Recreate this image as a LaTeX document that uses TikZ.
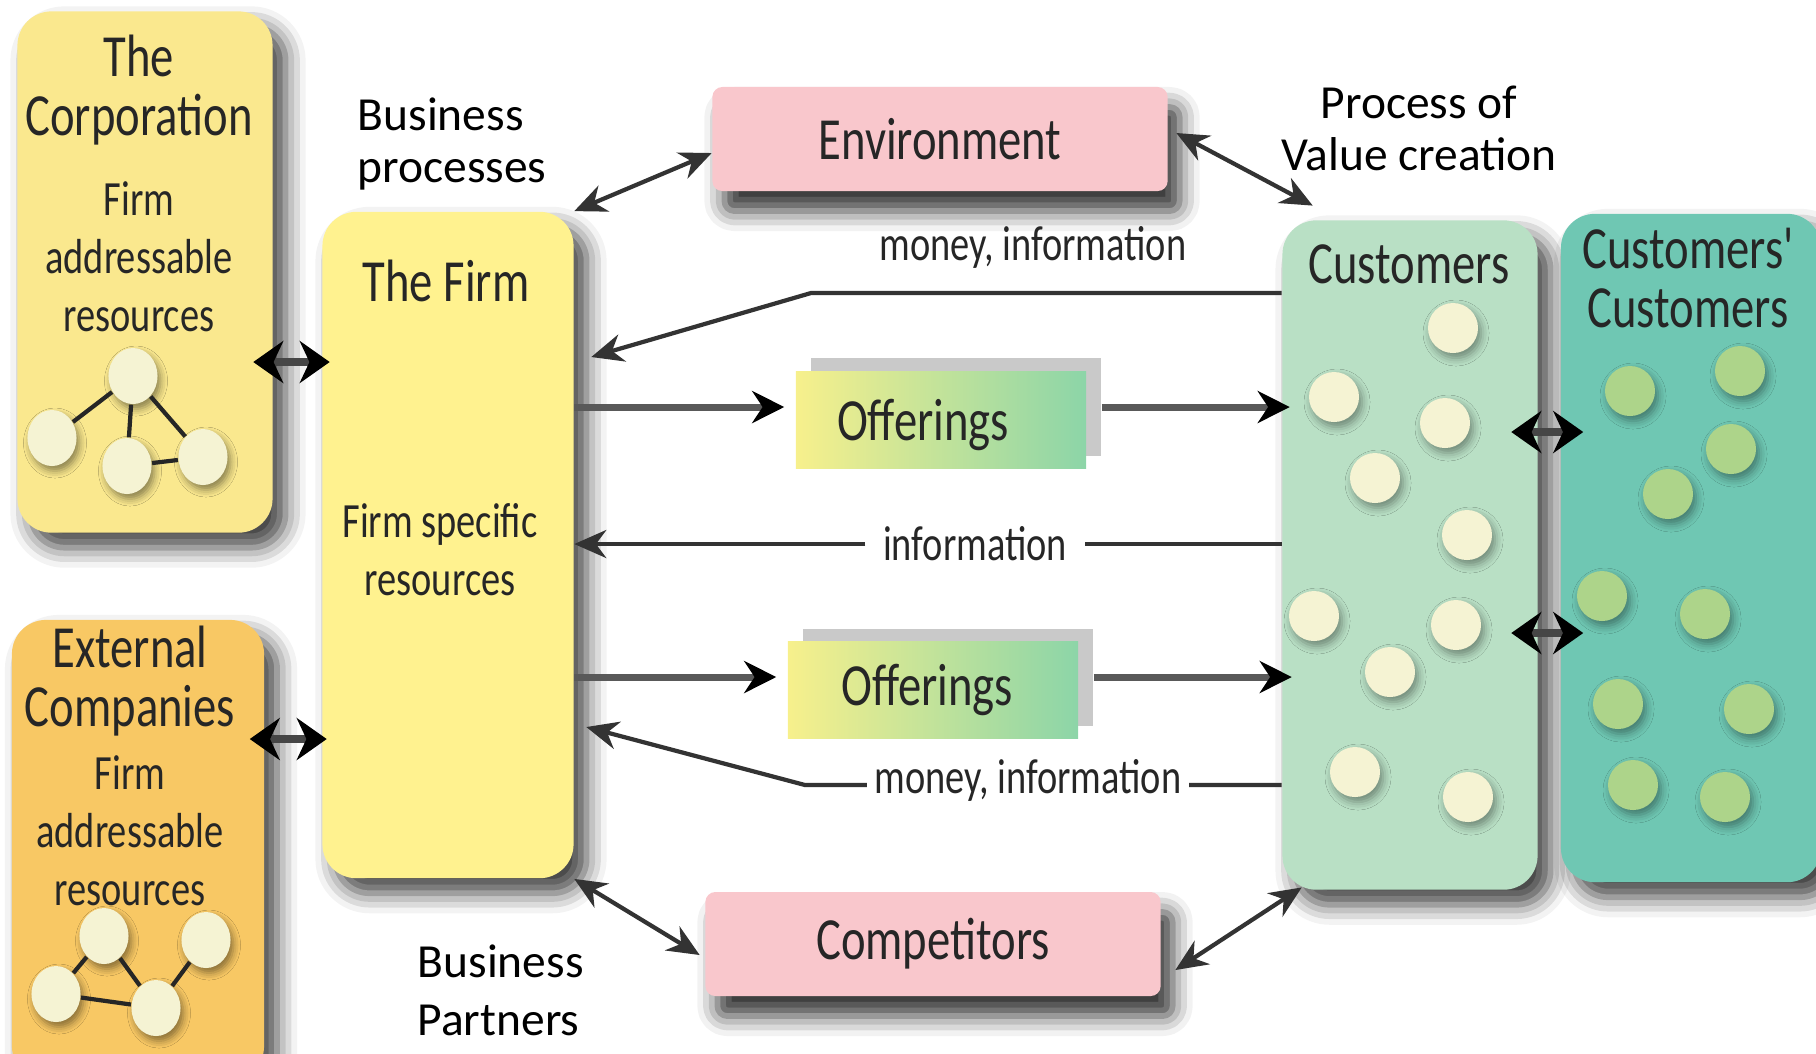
\documentclass[tikz,border=0pt]{standalone}
\usepackage{fontspec}
\setmainfont{Carlito}
\newfontfamily\condfont[FakeStretch=0.78]{Carlito}
\usepackage{tikz}
\usetikzlibrary{arrows.meta, positioning, shapes.geometric, calc, shadows.blur}

\definecolor{corpyellow}{HTML}{FAE88E}
\definecolor{firmyellow}{HTML}{FFF28F}
\definecolor{extorange}{HTML}{F8C864}
\definecolor{envpink}{HTML}{F9C7CC}
\definecolor{custgreen}{HTML}{B9E0C5}
\definecolor{ccteal}{HTML}{6FC7B3}
\definecolor{dotcream}{HTML}{F5F3D3}
\definecolor{dotgreen}{HTML}{ADD48A}
\definecolor{offyellow}{HTML}{F7F08C}
\definecolor{offgreen}{HTML}{8CD5A8}
\definecolor{offgray}{HTML}{C9C9C9}
\definecolor{linegray}{HTML}{333333}

\begin{document}
\begin{tikzpicture}[
    x=0.01cm, y=-0.01cm,
    bigbox/.style={rectangle, rounded corners=0.34cm, inner sep=0pt,
        blur shadow={shadow xshift=0.13cm, shadow yshift=-0.15cm, shadow blur radius=0.2cm, shadow opacity=75}},
    flatbox/.style={rectangle, rounded corners=0.1cm, fill=envpink, inner sep=0pt,
        minimum width=4.55cm, minimum height=1.04cm, text=black!85,
        font=\condfont\fontsize{17}{19}\selectfont,
        blur shadow={shadow xshift=0.12cm, shadow yshift=-0.2cm, shadow blur radius=0.2cm, shadow opacity=80}},
    offer/.style={rectangle, inner sep=0pt, minimum width=2.9cm, minimum height=0.97cm,
        left color=offyellow, right color=offgreen, text=black!85,
        font=\condfont\fontsize{17}{19}\selectfont},
    offback/.style={rectangle, inner sep=0pt, minimum width=2.9cm, minimum height=0.97cm, fill=offgray},
    boxtitle/.style={align=center, text=black!85, font=\condfont\fontsize{17}{17}\selectfont},
    boxtext/.style={align=center, text=black!85, font=\condfont\fontsize{14}{16.5}\selectfont},
    flowlabel/.style={text=black!85, font=\condfont\fontsize{14}{16}\selectfont, inner xsep=0.17cm, inner ysep=2pt},
    note/.style={align=left, inner sep=0pt, font=\fontsize{13.5}{14.8}\selectfont},
    rdot/.style={ellipse, minimum width=0.49cm, minimum height=0.56cm, inner sep=0pt, fill=dotcream,
        blur shadow={shadow xshift=0.03cm, shadow yshift=-0.05cm, shadow blur radius=0.07cm, shadow opacity=45}},
    cdot/.style={circle, minimum size=0.5cm, inner sep=0pt, fill=dotcream,
        blur shadow={shadow xshift=0.03cm, shadow yshift=-0.05cm, shadow blur radius=0.08cm, shadow opacity=40}},
    ccdot/.style={cdot, fill=dotgreen},
    arrow/.style={-{Stealth[length=0.32cm, width=0.28cm]}, line width=1.2pt, draw=linegray},
    both/.style={{Stealth[length=0.32cm, width=0.28cm]}-{Stealth[length=0.32cm, width=0.28cm]}, line width=1.2pt, draw=linegray},
    offarrow/.style={-{Stealth[length=0.32cm, width=0.32cm, color=black]}, line width=2pt, draw=gray!70!black},
    twohead/.style={{Stealth[length=0.3cm, width=0.42cm, color=black]}-{Stealth[length=0.3cm, width=0.42cm, color=black]}, line width=2.2pt, draw=gray!55!black},
    link/.style={line width=1.2pt, draw=black!85}
]
\useasboundingbox (0,0) rectangle (1816,1053);

% Main boxes
\node[bigbox, fill=corpyellow, minimum width=2.55cm, minimum height=5.21cm] (corp) at (145,272) {};
\node[bigbox, fill=extorange, minimum width=2.52cm, minimum height=4.6cm] (ext) at (138,850) {};
\node[bigbox, fill=firmyellow, minimum width=2.51cm, minimum height=6.66cm] (firm) at (448,545) {};
\node[bigbox, fill=custgreen, minimum width=2.55cm, minimum height=6.69cm] (cust) at (1410,555) {};
\node[bigbox, fill=ccteal, minimum width=2.6cm, minimum height=6.68cm] (cc) at (1691,548) {};

\node[flatbox] (env) at (940,139) {Environment};
\node[flatbox] (comp) at (933,944) {Competitors};

% Box texts
\node[boxtitle] (corpT) at (139,90) {The\\Corporation};
\node[boxtext] (corpR) at (139,257) {Firm\\addressable\\resources};
\node[boxtitle] (extT) at (130,681) {External\\Companies};
\node[boxtext] (extR) at (130,831) {Firm\\addressable\\resources};
\node[boxtitle] (firmT) at (446,281) {The Firm};
\node[boxtext] (firmR) at (440,550) {Firm specific\\resources};
\node[boxtitle] (custT) at (1409,264) {Customers};
\node[boxtitle] (ccT) at (1688,278) {Customers'\\Customers};

% Resource networks
\foreach \n/\x/\y in {1/133/376, 2/52/438, 3/127/466, 4/203/457}
    \node[rdot] (cd\n) at (\x,\y) {};
\draw[link] (cd2) -- (cd1) (cd1) -- (cd3) (cd1) -- (cd4) (cd3) -- (cd4);
\foreach \n/\x/\y in {1/104/936, 2/206/940, 3/56/994, 4/156/1008}
    \node[rdot] (ed\n) at (\x,\y) {};
\draw[link] (ed3) -- (ed1) (ed1) -- (ed4) (ed2) -- (ed4) (ed3) -- (ed4);

% Customer dots
\foreach \x/\y in {1453/328, 1334/397, 1445/423, 1375/478, 1467/535, 1314/616, 1456/625, 1390/672, 1355/772, 1468/797}
    \node[cdot] at (\x,\y) {};
\foreach \x/\y in {1630/391, 1740/371, 1731/449, 1668/494, 1602/596, 1705/614, 1618/704, 1749/709, 1633/785, 1725/797}
    \node[ccdot] at (\x,\y) {};

% Offerings
\node[offback] (offAback) at (956,407) {};
\node[offer, text depth=0pt] (offA) at (941,420) {\hspace*{-0.36cm}Offerings};
\node[offback] (offBback) at (948,677) {};
\node[offer] (offB) at (933,690) {\hspace*{-0.12cm}Offerings};

\draw[offarrow, shorten >=0.11cm] (firm.east |- offAback) -- (offA.west |- offAback);
\draw[offarrow, shorten >=-0.08cm] (offAback.east) -- (cust.west |- offAback);
\draw[offarrow, shorten >=0.11cm] (firm.east |- offBback) -- (offB.west |- offBback);
\draw[offarrow, shorten >=-0.1cm] (offBback.east) -- (cust.west |- offBback);

% Flows back to the firm
\node[flowlabel] (mtop) at (1033,247) {money, information};
\coordinate (mtopbend) at (811,293);
\draw[arrow] (cust.west |- mtopbend) -- (mtopbend) -- ($(firm.east |- 0,357)+(17,0)$);

\node[flowlabel] (info) at (975,544) {information};
\draw[link, draw=linegray] (cust.west |- info) -- (info.east);
\draw[arrow] (info.west) -- (firm.east |- info);

\coordinate (mbotbend) at (805,785);
\draw[arrow] (cust.west |- mbotbend) -- (mbotbend) -- ($(firm.east |- 0,727)+(12,0)$);
\node[flowlabel, fill=white, inner xsep=0.08cm] (mbot) at (1028,780) {money, information};

% Environment and competitors
\draw[both] (firm.north east) -- ($(env.west)+(0,14)$);
\draw[both] ($(env.east)+(8,-6)$) -- ($(cust.north west)+(31,-14)$);
\draw[both] (firm.south east) -- ($(comp.west)+(-5,11)$);
\draw[both] ($(comp.east)+(14,26)$) -- ($(cust.south west)+(20,-3)$);

% Short links between neighbours
\draw[twohead, shorten <=-0.2cm, shorten >=-0.08cm] (corp.east |- 0,362) -- (firm.west |- 0,362);
\draw[twohead, shorten <=-0.15cm, shorten >=-0.05cm] (ext.east |- 0,739) -- (firm.west |- 0,739);
\draw[twohead, shorten <=-0.27cm, shorten >=-0.23cm] (cust.east |- 0,432) -- (cc.west |- 0,432);
\draw[twohead, shorten <=-0.27cm, shorten >=-0.23cm] (cust.east |- 0,633) -- (cc.west |- 0,633);

% Side notes
\node[note, anchor=west] (bproc) at (357,144) {Business\\processes};
\node[note, align=center] (pval) at (1419,128) {Process of\\Value creation};
\node[note, anchor=west, font=\fontsize{13.5}{16.5}\selectfont] (bpart) at (417,990) {Business\\Partners};

\end{tikzpicture}
\end{document}
